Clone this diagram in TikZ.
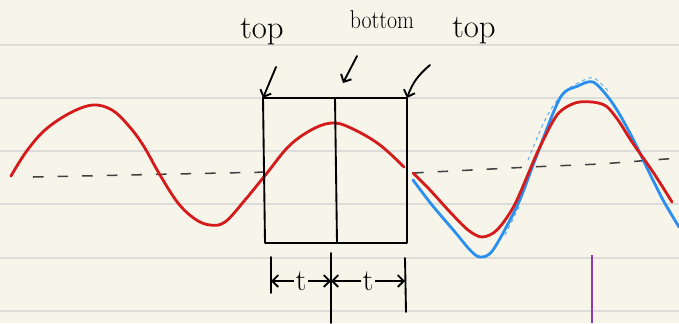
\documentclass[tikz,border=0pt]{standalone}
\usetikzlibrary{arrows.meta}
\begin{document}
\begin{tikzpicture}[x=0.03cm, y=-0.03cm,
    wave/.style={line width=2.4pt, line cap=round, line join=round},
    pen/.style={line width=1.6pt, line cap=round, line join=round},
    word/.style={inner sep=0pt, font=\fontsize{28}{28}\selectfont}]
    \definecolor{paperColour}{HTML}{F7F5EA}
    \definecolor{ruleColour}{HTML}{DCDCDA}
    \definecolor{redColour}{HTML}{D41A1A}
    \definecolor{blueColour}{HTML}{2B8FF0}
    \definecolor{lightBlue}{HTML}{5AA8F2}
    \definecolor{purpleColour}{HTML}{8E3BB5}

    \def\boxTop{98}
    \def\boxBottom{243}

    % Paper and ruled lines
    \fill[paperColour] (0,0) rectangle (679,323);
    \useasboundingbox (0,0) rectangle (679,323);
    \foreach \y in {45,98,151,204,258,311}
        \draw[ruleColour, line width=1.2pt] (0,\y) -- (679,\y);

    % Dashed centre line
    \draw[black!75, line width=1.3pt, dash pattern=on 9pt off 12pt] (33,177) -- (270,172);
    \draw[black!75, line width=1.3pt, dash pattern=on 9pt off 12pt] (413,173) -- (530,167) -- (600,164) -- (679,158);

    % Red wave, left part
    \draw[wave, redColour] plot[smooth, tension=0.6] coordinates
        {(11,176) (26,152) (45,130) (70,113) (93,105) (112,110) (128,125) (143,145) (160,175) (178,203) (195,219) (210,225) (225,222) (245,200) (267,173) (290,145) (315,128) (335,123) (355,130) (380,145) (404,167)};

    % Blue wave, right part
    \draw[lightBlue, line width=0.8pt, dashed] plot[smooth, tension=0.5] coordinates
        {(528,160) (545,120) (562,94) (580,82) (594,78) (610,93)};
    \draw[lightBlue, line width=0.8pt, dashed] plot[smooth, tension=0.5] coordinates
        {(505,235) (520,205)};
    \draw[wave, blueColour] plot[smooth, tension=0.5] coordinates
        {(413,180) (432,205) (455,232) (470,250) (480,257) (493,250) (518,204) (535,160) (560,98) (578,86) (593,82) (608,97) (620,115) (634,141) (648,170) (663,200) (679,227)};

    % Red wave, right part
    \draw[wave, redColour] plot[smooth, tension=0.5] coordinates
        {(413,173) (430,190) (450,212) (468,230) (482,237) (497,230) (515,204) (538,151) (557,115) (575,103) (592,102) (606,106) (618,120) (632,142) (653,172) (672,202)};

    % Window of two halves
    \coordinate (A1) at (265,\boxBottom);
    \coordinate (A2) at (263,\boxTop);
    \coordinate (A3) at (407,\boxTop);
    \coordinate (A4) at (407,\boxBottom);
    \coordinate (M1) at (335,\boxTop);
    \coordinate (M2) at (337,\boxBottom);
    \draw[pen] (A1) -- (A2) -- (A3) -- (A4) -- cycle;
    \draw[pen] (M1) -- (M2);

    % Labels with pointers
    \node[word] (topA) at (262,32) {top};
    \node[word, font=\fontsize{22}{22}\selectfont, xscale=0.85, transform shape] (bottomB) at (382,20) {bottom};
    \node[word] (topC) at (474,31) {top};
    \draw[pen, -{Straight Barb[length=5pt]}] (276,67) -- (A2);
    \draw[pen, -{Straight Barb[length=5pt]}] (357,56) -- (343,83);
    \draw[pen, -{Straight Barb[length=5pt]}] (430,65) to[bend right=15] (A3);

    % Time steps under the window
    \coordinate (T1) at (271,257);
    \coordinate (T2) at (331,253);
    \coordinate (T3) at (405,258);
    \draw[pen] (T1) -- (271,293);
    \draw[pen] (T2) -- (331,323);
    \draw[pen] (T3) -- (406,312);
    \draw[pen, {Straight Barb[length=5pt]}-{Straight Barb[length=5pt]}] (271,281) -- (331,281)
        node[midway, fill=paperColour, inner sep=1pt, font=\fontsize{26}{26}\selectfont] (tA) {t};
    \draw[pen, {Straight Barb[length=5pt]}-{Straight Barb[length=5pt]}] (331,281) -- (405,281)
        node[midway, fill=paperColour, inner sep=1pt, font=\fontsize{26}{26}\selectfont] (tB) {t};

    % Purple marker
    \draw[purpleColour, line width=2pt] (592,255) -- (592,323);

\end{tikzpicture}
\end{document}
